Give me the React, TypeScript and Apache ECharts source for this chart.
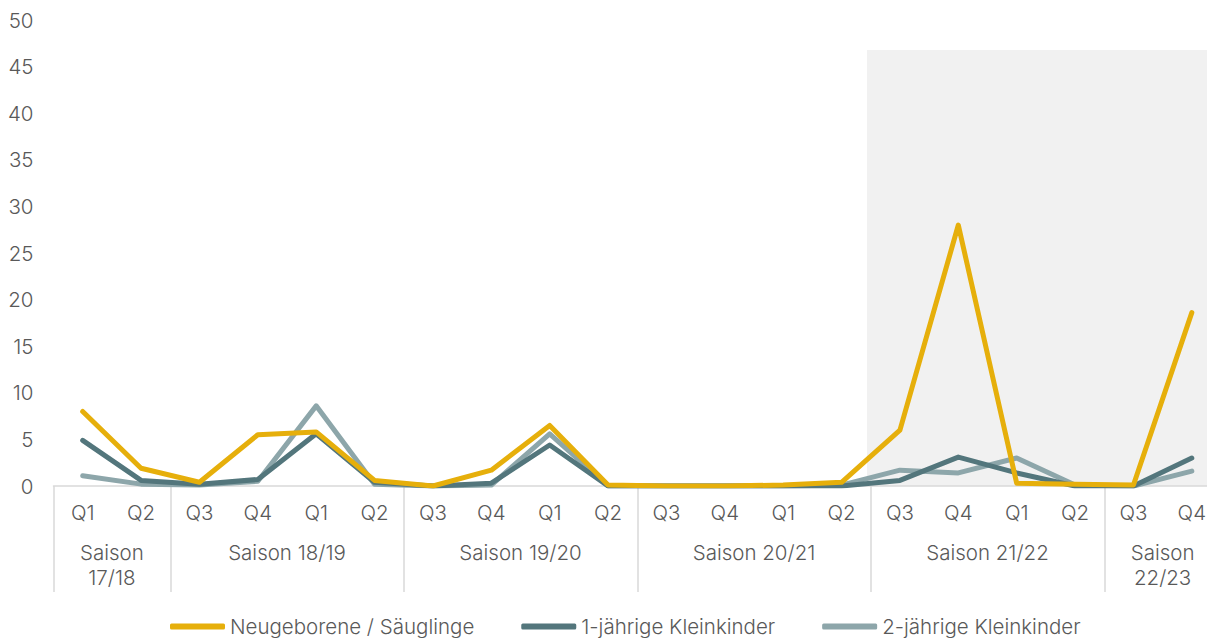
import React, { useEffect, useRef } from "react";
import * as echarts from "echarts";

// Quarter labels along the x axis, grouped into seasons below
const quarters = ["Q1", "Q2", "Q3", "Q4", "Q1", "Q2", "Q3", "Q4", "Q1", "Q2", "Q3", "Q4", "Q1", "Q2", "Q3", "Q4", "Q1", "Q2", "Q3", "Q4"];

// Seasons: first and last quarter index, and the label shown under them
const seasonStart = [0, 2, 6, 10, 14, 18];
const seasonEnd = [1, 5, 9, 13, 17, 19];
const seasonLabels = ["Saison\n17/18", "Saison 18/19", "Saison 19/20", "Saison 20/21", "Saison 21/22", "Saison\n22/23"];

const seriesNames = ["Neugeborene / Säuglinge", "1-jährige Kleinkinder", "2-jährige Kleinkinder"];
const seriesColors = ["#E6AF0B", "#53767C", "#8DA6AA"];

const neugeborene = [8.0, 1.9, 0.4, 5.5, 5.8, 0.6, 0.0, 1.7, 6.5, 0.1, 0.0, 0.0, 0.1, 0.4, 6.0, 28.0, 0.3, 0.2, 0.1, 18.6];
const einjaehrige = [4.9, 0.6, 0.2, 0.7, 5.6, 0.4, 0.0, 0.3, 4.4, 0.0, 0.0, 0.0, 0.0, 0.0, 0.6, 3.1, 1.4, 0.0, 0.0, 3.0];
const zweijaehrige = [1.1, 0.2, 0.1, 0.5, 8.6, 0.2, 0.0, 0.1, 5.6, 0.0, 0.0, 0.0, 0.0, 0.1, 1.7, 1.4, 3.0, 0.1, 0.0, 1.6];

const FONT = "Inter";
const FONT_SIZE = 20.5;
const TEXT_COLOR = "#595959";
const RULE_COLOR = "#D9D9D9";

export default function App() {
  const ref = useRef<HTMLDivElement>(null);

  useEffect(() => {
    if (!ref.current) return;
    const chart = echarts.init(ref.current, null, { renderer: "svg" });

    const boundaries = new Set(seasonStart);
    const seasonData = seasonStart.map((s, i) => [s, seasonEnd[i]]);
    const values = [neugeborene, einjaehrige, zweijaehrige];

    chart.setOption({
      animation: false,
      textStyle: { fontFamily: FONT },
      graphic: [
        {
          type: "rect",
          z: -1,
          silent: true,
          shape: { x: 867, y: 50, width: 360, height: 436 },
          style: { fill: "#F1F1F1" },
        },
      ],
      grid: { left: 53.5, right: 0, top: 20, bottom: 152, containLabel: false },
      legend: {
        data: seriesNames,
        left: 165,
        top: 611,
        icon: "roundRect",
        itemWidth: 55,
        itemHeight: 6,
        itemGap: 47,
        textStyle: { fontFamily: FONT, fontSize: FONT_SIZE, fontWeight: 300, color: TEXT_COLOR },
      },
      xAxis: {
        type: "category",
        data: quarters,
        boundaryGap: true,
        axisLine: { lineStyle: { color: RULE_COLOR, width: 1.5 } },
        axisTick: {
          show: true,
          length: 106,
          interval: (i: number) => boundaries.has(i),
          lineStyle: { color: RULE_COLOR, width: 1.5 },
        },
        axisLabel: {
          interval: 0,
          margin: 16,
          fontFamily: FONT,
          fontSize: FONT_SIZE,
          fontWeight: 300,
          color: TEXT_COLOR,
        },
      },
      yAxis: {
        type: "value",
        min: 0,
        max: 50,
        interval: 5,
        splitLine: { show: false },
        axisLine: { show: false },
        axisTick: { show: false },
        axisLabel: { margin: 20, fontFamily: FONT, fontSize: FONT_SIZE, fontWeight: 300, color: TEXT_COLOR },
      },
      series: [
        ...seriesNames.map((name, k) => ({
          name,
          type: "line",
          data: values[k],
          showSymbol: false,
          symbol: "none",
          color: seriesColors[k],
          lineStyle: { width: 5, color: seriesColors[k], cap: "round", join: "round" },
          z: 3 + (2 - k),
        })),
        {
          type: "custom",
          name: "seasons",
          silent: true,
          clip: false,
          data: seasonData,
          encode: { x: 0 },
          renderItem: (params: any, api: any) => {
            const a = api.coord([api.value(0), 0]);
            const b = api.coord([api.value(1), 0]);
            return {
              type: "text",
              style: {
                text: seasonLabels[params.dataIndex],
                x: (a[0] + b[0]) / 2,
                y: a[1] + 54,
                align: "center",
                verticalAlign: "top",
                fontFamily: FONT,
                fontSize: FONT_SIZE,
                fontWeight: 300,
                lineHeight: 25,
                fill: TEXT_COLOR,
              },
            };
          },
        },
      ],
    });

    return () => chart.dispose();
  }, []);

  // The drawing surface runs slightly past the right window edge, so the last quarter sits near the border
  return (
    <div
      ref={ref}
      style={{ position: "fixed", left: 0, top: 0, width: 1221, height: 638, background: "#fff" }}
    />
  );
}
